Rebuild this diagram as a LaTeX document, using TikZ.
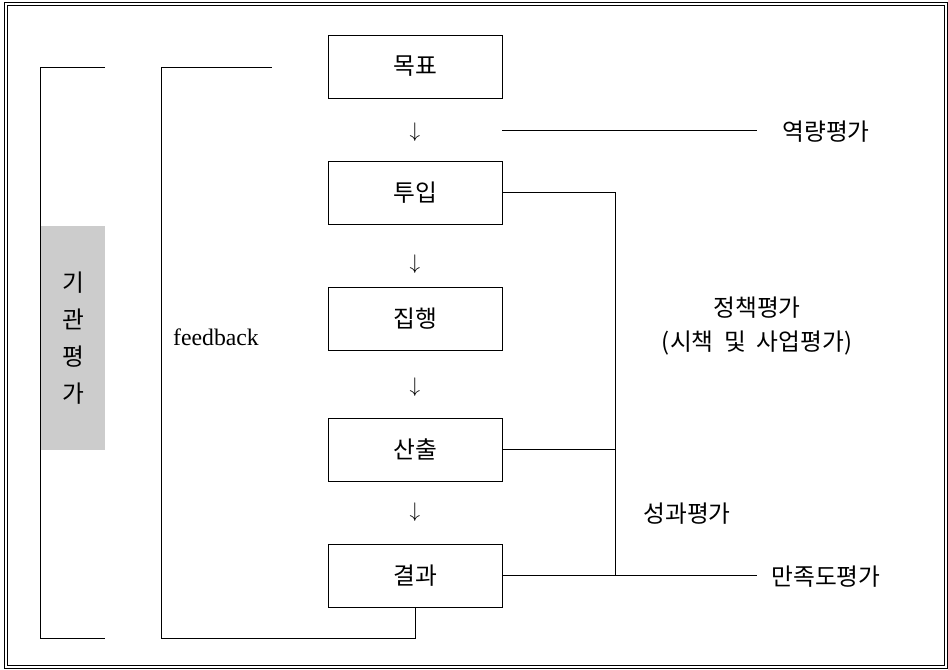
\documentclass[tikz,border=0pt]{standalone}
\usepackage{fontspec}
\setmainfont{Liberation Serif}
\newfontfamily\krfont{Noto Sans CJK KR}
\usepackage{xcolor}
\usepackage{tikz}
\tikzset{>=latex,
    stage/.style={draw, rectangle, minimum width=3.48cm, minimum height=1.26cm,
        font=\krfont\fontsize{13.5}{16}\selectfont},
    evaltext/.style={font=\krfont\fontsize{13.5}{19}\selectfont, align=center},
    flowarrow/.style={font=\fontsize{12}{14}\selectfont, inner sep=0pt}}
\usetikzlibrary{calc}

\begin{document}
\begin{tikzpicture}[x=0.02cm, y=-0.02cm, line width=0.5pt]
    \useasboundingbox (0,0) rectangle (948,670);
    \draw (4,2) rectangle (947,668);
    \draw (7,5) rectangle (944,665);
    \node[stage] at (415,66.5) (goal) {목표};
    \node[stage] at (415,192.5) (input) {투입};
    \node[stage] at (415,318.5) (exec) {집행};
    \node[stage] at (415,449.5) (output) {산출};
    \node[stage] at (415,575.5) (result) {결과};
    \node[flowarrow] at (415,132) (dn1) {$\downarrow$};
    \node[flowarrow] at (415,264) (dn2) {$\downarrow$};
    \node[flowarrow] at (415,387) (dn3) {$\downarrow$};
    \node[flowarrow] at (415,512) (dn4) {$\downarrow$};
    \node[evaltext] at (826,132) (capacity) {역량평가};
    \node[evaltext] at (757,326) (policy) {정책평가\\(시책\ \ 및\ \ 사업평가)};
    \node[evaltext] at (687,514) (perf) {성과평가};
    \node[evaltext] at (826,577) (satis) {만족도평가};
    \node[font=\fontsize{13.5}{15}\selectfont] at (216,337) (fb) {feedback};
    \node[fill=black!20, minimum width=1.28cm, minimum height=4.48cm,
        font=\krfont\fontsize{13.5}{16}\selectfont, align=center] at (73,338) (inst)
        {기\\[0.18cm]관\\[0.18cm]평\\[0.18cm]가};
    \coordinate (capend) at (757,130);
    \coordinate (satend) at (757,575.5);
    \coordinate (bus) at (615,575.5);
    \draw (goal.east |- capend) -- (capend);
    \draw (input.east) -| (bus);
    \draw (output.east) -- (output.east -| bus);
    \draw (result.east) -- (satend);
    \draw (result.south) |- (161,638) |- (272,67);
    \draw (105,67) -| (40,638) -- (105,638);
  \end{tikzpicture}
\end{document}
